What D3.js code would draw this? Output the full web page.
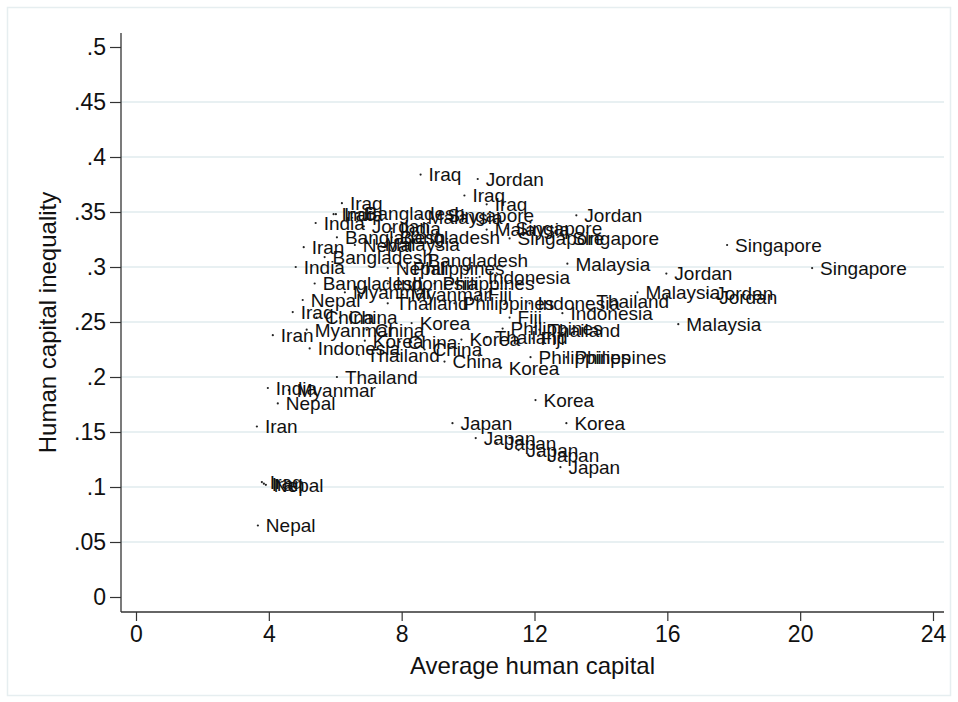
<!DOCTYPE html>
<html>
<head>
<meta charset="utf-8">
<script src="https://cdn.jsdelivr.net/npm/d3@7/dist/d3.min.js"></script>
<style>
  html, body { margin: 0; padding: 0; background: #ffffff; }
  svg { display: block; font-family: "Liberation Sans", Arial, Helvetica, sans-serif; }
</style>
</head>
<body>
<svg id="chart" width="958" height="702"></svg>
<script>
// Country label for every observation
const pointLabels = [
  "Bangladesh","Bangladesh","Bangladesh","Bangladesh","Bangladesh","Bangladesh",
  "China","China","China","China","China","China",
  "Fiji","Fiji","Fiji",
  "India","India","India","India","India",
  "Indonesia","Indonesia","Indonesia","Indonesia","Indonesia",
  "Iran","Iran","Iran","Iran",
  "Iraq","Iraq","Iraq","Iraq","Iraq","Iraq","Iraq",
  "Japan","Japan","Japan","Japan","Japan","Japan",
  "Jordan","Jordan","Jordan","Jordan","Jordan","Jordan",
  "Korea","Korea","Korea","Korea","Korea","Korea",
  "Malaysia","Malaysia","Malaysia","Malaysia","Malaysia","Malaysia",
  "Myanmar","Myanmar","Myanmar","Myanmar",
  "Nepal","Nepal","Nepal","Nepal","Nepal","Nepal",
  "Philippines","Philippines","Philippines","Philippines","Philippines","Philippines",
  "Singapore","Singapore","Singapore","Singapore","Singapore","Singapore",
  "Thailand","Thailand","Thailand","Thailand","Thailand","Thailand"
];

// Average human capital (x)
const avgHumanCapital = [
  6.65, 6.05, 7.70, 5.68, 8.54, 5.38,
  5.44, 6.14, 6.95, 7.94, 8.69, 9.29,
  10.35, 11.25, 11.94,
  5.95, 5.41, 7.70, 4.81, 3.97,
  10.35, 11.85, 12.84, 5.23, 7.58,
  5.05, 4.12, 3.64, 3.85,
  8.57, 9.89, 10.56, 6.20, 6.02, 4.72, 3.79,
  9.53, 10.23, 10.86, 11.52, 12.15, 12.78,
  10.29, 13.26, 6.86, 15.97, 17.20, 17.32,
  8.30, 6.89, 9.80, 10.98, 12.03, 12.96,
  8.54, 10.56, 7.25, 12.99, 15.10, 16.33,
  4.60, 5.14, 8.03, 6.29,
  6.59, 7.58, 5.02, 4.27, 3.91, 3.67,
  8.09, 8.99, 9.59, 11.04, 11.88, 12.96,
  9.14, 11.19, 11.25, 12.90, 17.80, 20.36,
  7.58, 6.71, 6.05, 10.56, 12.15, 13.62
];

// Human capital inequality (y)
const hcInequality = [
  0.349, 0.327, 0.327, 0.309, 0.306, 0.285,
  0.254, 0.254, 0.243, 0.232, 0.225, 0.214,
  0.275, 0.254, 0.235,
  0.348, 0.340, 0.335, 0.300, 0.190,
  0.291, 0.267, 0.258, 0.226, 0.285,
  0.318, 0.238, 0.155, 0.103,
  0.384, 0.365, 0.357, 0.358, 0.348, 0.259, 0.1045,
  0.158, 0.1445, 0.140, 0.1336, 0.129, 0.118,
  0.380, 0.347, 0.337, 0.294, 0.276, 0.273,
  0.249, 0.233, 0.234, 0.208, 0.179, 0.158,
  0.345, 0.334, 0.321, 0.303, 0.277, 0.248,
  0.188, 0.243, 0.275, 0.277,
  0.320, 0.299, 0.270, 0.176, 0.102, 0.065,
  0.299, 0.285, 0.267, 0.244, 0.218, 0.218,
  0.347, 0.335, 0.326, 0.326, 0.320, 0.299,
  0.267, 0.220, 0.200, 0.236, 0.243, 0.269
];

const xTicks = [0, 4, 8, 12, 16, 20, 24];
const yTicks = [0, 0.05, 0.1, 0.15, 0.2, 0.25, 0.3, 0.35, 0.4, 0.45, 0.5];
const yTickLabels = ["0", ".05", ".1", ".15", ".2", ".25", ".3", ".35", ".4", ".45", ".5"];
const yGridValues = [0.05, 0.1, 0.15, 0.2, 0.25, 0.3, 0.35, 0.4, 0.45];

const xTitle = "Average human capital";
const yTitle = "Human capital inequality";

const svg = d3.select("#chart");

// Plot region bounds
const plotLeft = 121, plotRight = 944, plotTop = 33, plotBottom = 612;

const x = d3.scaleLinear().domain([0, 24]).range([136, 933]);
const y = d3.scaleLinear().domain([0, 0.5]).range([597, 47]);

// Outer graph frame
svg.append("rect")
  .attr("x", 7.5).attr("y", 7.5)
  .attr("width", 943).attr("height", 688)
  .attr("fill", "#ffffff")
  .attr("stroke", "#e6eef0")
  .attr("stroke-width", 1.5);

// Horizontal grid lines
svg.append("g")
  .selectAll("line")
  .data(yGridValues)
  .join("line")
  .attr("x1", plotLeft).attr("x2", plotRight)
  .attr("y1", d => y(d)).attr("y2", d => y(d))
  .attr("stroke", "#e8f0f2")
  .attr("stroke-width", 2);

// Y axis
const yAxis = d3.axisLeft(y)
  .tickValues(yTicks)
  .tickFormat((d, i) => yTickLabels[i])
  .tickSize(11)
  .tickSizeOuter(0)
  .tickPadding(4);

const gy = svg.append("g")
  .attr("transform", `translate(${plotLeft},0)`)
  .call(yAxis);
gy.select(".domain").remove();
gy.selectAll(".tick line").attr("stroke", "#333333").attr("stroke-width", 1.2);
gy.selectAll(".tick text")
  .attr("fill", "#111111")
  .style("font-size", "23px")
  .style("font-family", "\"Liberation Sans\", Arial, sans-serif");

// X axis
const xAxis = d3.axisBottom(x)
  .tickValues(xTicks)
  .tickFormat(d3.format("d"))
  .tickSize(9)
  .tickSizeOuter(0)
  .tickPadding(5);

const gx = svg.append("g")
  .attr("transform", `translate(0,${plotBottom})`)
  .call(xAxis);
gx.select(".domain").remove();
gx.selectAll(".tick line").attr("stroke", "#333333").attr("stroke-width", 1.2);
gx.selectAll(".tick text")
  .attr("fill", "#111111")
  .style("font-size", "23px")
  .style("font-family", "\"Liberation Sans\", Arial, sans-serif");

// Axis lines
svg.append("line")
  .attr("x1", plotLeft).attr("x2", plotLeft)
  .attr("y1", plotTop).attr("y2", plotBottom)
  .attr("stroke", "#333333").attr("stroke-width", 1.3);
svg.append("line")
  .attr("x1", plotLeft).attr("x2", plotRight)
  .attr("y1", plotBottom).attr("y2", plotBottom)
  .attr("stroke", "#333333").attr("stroke-width", 1.3);

// Axis titles
svg.append("text")
  .attr("x", (plotLeft + plotRight) / 2)
  .attr("y", 674)
  .attr("text-anchor", "middle")
  .attr("fill", "#111111")
  .style("font-size", "24px")
  .text(xTitle);

svg.append("text")
  .attr("transform", `translate(56,${(plotTop + plotBottom) / 2}) rotate(-90)`)
  .attr("text-anchor", "middle")
  .attr("fill", "#111111")
  .style("font-size", "24px")
  .text(yTitle);

// Observations with country labels
const points = pointLabels.map((name, i) => ({
  name, hx: avgHumanCapital[i], hy: hcInequality[i]
}));

const gp = svg.append("g");
gp.selectAll("circle")
  .data(points)
  .join("circle")
  .attr("cx", d => x(d.hx))
  .attr("cy", d => y(d.hy))
  .attr("r", 1.1)
  .attr("fill", "#222222");

gp.selectAll("text")
  .data(points)
  .join("text")
  .attr("x", d => x(d.hx) + 8)
  .attr("y", d => y(d.hy))
  .attr("dy", "0.36em")
  .attr("fill", "#111111")
  .style("font-size", "19px")
  .text(d => d.name);
</script>
</body>
</html>
